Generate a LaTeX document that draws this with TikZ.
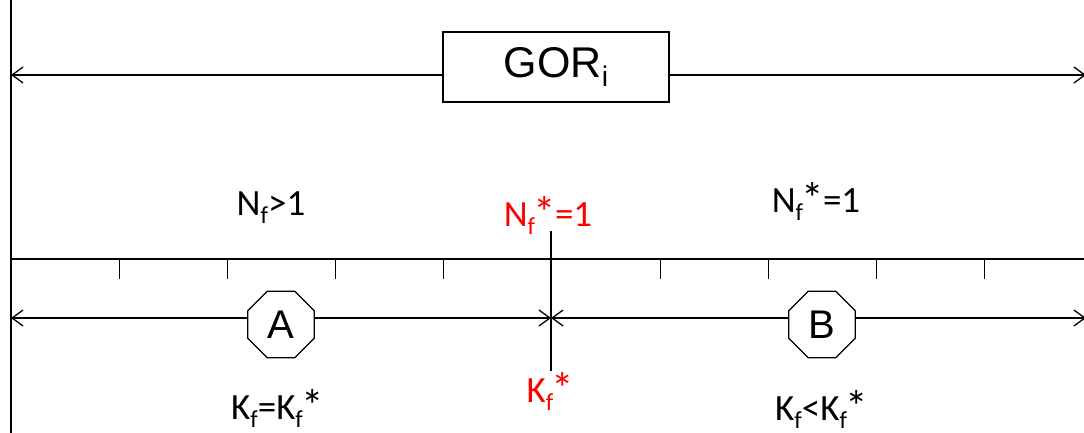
\documentclass[tikz,border=0pt]{standalone}
\usepackage{fontspec}
\setmainfont{Carlito}
\newfontfamily\arialf{Liberation Sans}
\usetikzlibrary{arrows.meta,shapes.geometric}
\newcommand\lowsub[1]{\raisebox{-0.22em}{\scalebox{0.66}{#1}}}
\newcommand\bigstar{\kern-0.04em\raisebox{-0.08em}{\scalebox{1.22}{*}}\kern-0.03em}
\definecolor{pptred}{RGB}{255,0,0}
\tikzset{
  x=1pt,y=-1pt,
  ln/.style={line width=1.3pt,black},
  dbl/.style={ln,{Straight Barb[length=11pt,width=16pt,line width=1.3pt]}-{Straight Barb[length=11pt,width=16pt,line width=1.3pt]}},
  lbl/.style={anchor=base,inner sep=0pt,font=\fontsize{37}{40}\selectfont},
  oct/.style={ln,draw,fill=white,regular polygon,regular polygon sides=8,minimum size=72pt,inner sep=0pt,font=\arialf\fontsize{40}{44}\selectfont},
  tick/.style={ln}
}
\begin{document}
\begin{tikzpicture}
\useasboundingbox (0,0) rectangle (1084,433);
% left vertical line
\coordinate (vtop) at (11,0);
\coordinate (vbot) at (11,433);
\draw[ln] (vtop) -- (vbot);
% top GOR arrow
\node[ln,draw,fill=white,minimum width=226pt,minimum height=70pt,inner sep=0pt,font=\arialf\fontsize{43}{46}\selectfont] (gor) at (556,67) {GOR\lowsub{i}};
\coordinate (tl) at (11,75);
\coordinate (tr) at (1086,75);
\draw[ln,-{Straight Barb[length=11pt,width=16pt,line width=1.3pt]}] (gor.west |- tl) -- (tl);
\draw[ln,-{Straight Barb[length=11pt,width=16pt,line width=1.3pt]}] (gor.east |- tr) -- (tr);
% axis
\coordinate (al) at (11,259);
\coordinate (ar) at (1084,259);
\draw[ln] (al) -- (ar);
\foreach \i in {1,2,3,4,6,7,8,9}{
  \coordinate (t\i) at ({11+108.2*\i},259);
  \draw[tick] (t\i) -- ++(0,20);
}
% central vertical
\coordinate (ctop) at (551,231);
\coordinate (cbot) at (551,371);
\draw[ln] (ctop) -- (cbot);
% lower arrows
\coordinate (ml) at (11,318);
\coordinate (mc) at (551,318);
\coordinate (mr) at (1086,318);
\draw[dbl] (ml) -- (mc);
\draw[dbl] (mc) -- (mr);
\node[oct] (A) at (281,324.5) {A};
\node[oct] (B) at (822,324.5) {B};
% labels
\node[lbl] (n1) at (271,215) {N\lowsub{f}>1};
\node[lbl] (n2) at (816,212) {N\lowsub{f}\bigstar=1};
\node[lbl,text=pptred] (n3) at (548,226) {N\lowsub{f}\bigstar=1};
\node[lbl,text=pptred] (k3) at (550,402) {K\lowsub{f}\bigstar};
\node[lbl] (k1) at (277,419) {K\lowsub{f}=K\lowsub{f}\bigstar};
\node[lbl] (k2) at (821,420) {K\lowsub{f}<K\lowsub{f}\bigstar};
\end{tikzpicture}
\end{document}
